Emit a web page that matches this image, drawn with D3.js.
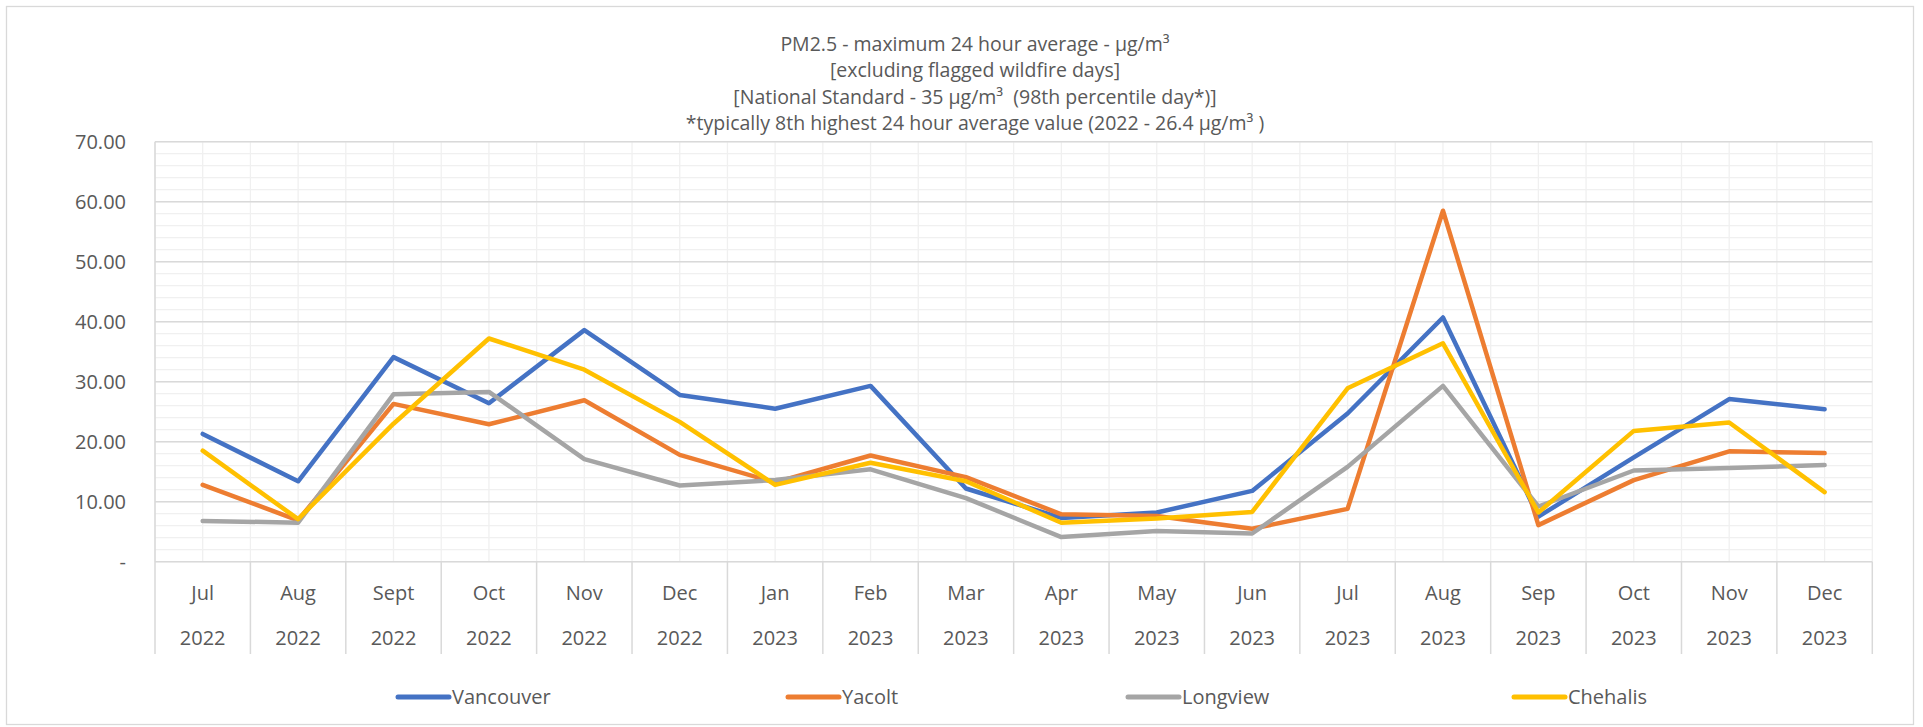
<!DOCTYPE html>
<html>
<head>
<meta charset="utf-8">
<script src="https://cdn.jsdelivr.net/npm/d3@7"></script>
<style>
    body { margin: 0; background: #ffffff; }
    svg text { fill: #595959; }
</style>
</head>
<body>
<div id="chart"></div>
<script>
// PM2.5 max 24 hour average, by month
var months = ["Jul", "Aug", "Sept", "Oct", "Nov", "Dec", "Jan", "Feb", "Mar", "Apr", "May", "Jun",
              "Jul", "Aug", "Sep", "Oct", "Nov", "Dec"];
var years = ["2022", "2022", "2022", "2022", "2022", "2022", "2023", "2023", "2023", "2023", "2023", "2023",
             "2023", "2023", "2023", "2023", "2023", "2023"];

var vancouver = [21.3, 13.4, 34.1, 26.4, 38.6, 27.8, 25.5, 29.3, 12.2, 7.3, 8.2, 11.8, 24.7, 40.7, 7.5, 17.4, 27.1, 25.4];
var yacolt    = [12.8, 6.9, 26.3, 22.9, 26.9, 17.8, 13.2, 17.7, 14.1, 7.9, 7.6, 5.5, 8.8, 58.5, 6.1, 13.6, 18.4, 18.1];
var longview  = [6.8, 6.5, 27.9, 28.3, 17.1, 12.7, 13.6, 15.4, 10.6, 4.1, 5.1, 4.7, 15.8, 29.3, 9.2, 15.2, 15.6, 16.1];
var chehalis  = [18.5, 7.1, 23.0, 37.2, 32.0, 23.3, 12.8, 16.5, 13.4, 6.5, 7.2, 8.3, 28.9, 36.4, 8.2, 21.8, 23.2, 11.6];

var seriesNames = ["Vancouver", "Yacolt", "Longview", "Chehalis"];
var seriesValues = [vancouver, yacolt, longview, chehalis];
var seriesColors = ["#4472C4", "#ED7D31", "#A5A5A5", "#FFC000"];

var yTicks = [0, 10, 20, 30, 40, 50, 60, 70];

var titleLines = [
    "PM2.5 - maximum 24 hour average - µg/m³",
    "[excluding flagged wildfire days]",
    "[National Standard - 35 µg/m³  (98th percentile day*)]",
    "*typically 8th highest 24 hour average value (2022 - 26.4 µg/m³ )"
];

var width = 1923;
var height = 727;
var plotLeft = 155, plotRight = 1872.3, plotTop = 141.7, plotBottom = 561.7, axisBottom = 654;
var font = "'Open Sans', 'Noto Sans', sans-serif";

var svg = d3.select("#chart")
    .append("svg")
    .attr("width", width)
    .attr("height", height);

// outer border
svg.append("rect")
    .attr("x", 6.5).attr("y", 6.5)
    .attr("width", 1907).attr("height", 718)
    .attr("fill", "#ffffff")
    .attr("stroke", "#d9d9d9")
    .attr("stroke-width", 1.3);

var x = d3.scaleBand()
    .domain(d3.range(months.length))
    .range([plotLeft, plotRight]);

var y = d3.scaleLinear()
    .domain([0, 70])
    .range([plotBottom, plotTop]);

var bw = x.bandwidth();

// vertical minor grid (band edges and centres)
var vLines = [];
months.forEach(function (m, i) {
    vLines.push(x(i));
    vLines.push(x(i) + bw / 2);
});
vLines.push(plotRight);

svg.append("g")
    .selectAll("line")
    .data(vLines)
    .enter()
    .append("line")
    .attr("x1", function (d) { return d; })
    .attr("x2", function (d) { return d; })
    .attr("y1", plotTop)
    .attr("y2", plotBottom)
    .attr("stroke", "#f0f0f0")
    .attr("stroke-width", 1.3);

// horizontal minor grid
svg.append("g")
    .selectAll("line")
    .data(d3.range(0, 71, 2))
    .enter()
    .append("line")
    .attr("x1", plotLeft)
    .attr("x2", plotRight)
    .attr("y1", function (d) { return y(d); })
    .attr("y2", function (d) { return y(d); })
    .attr("stroke", "#f0f0f0")
    .attr("stroke-width", 1.3);

// horizontal major grid
svg.append("g")
    .selectAll("line")
    .data(yTicks)
    .enter()
    .append("line")
    .attr("x1", plotLeft)
    .attr("x2", plotRight)
    .attr("y1", function (d) { return y(d); })
    .attr("y2", function (d) { return y(d); })
    .attr("stroke", "#d9d9d9")
    .attr("stroke-width", 1.5);

// left edge of plot
svg.append("line")
    .attr("x1", plotLeft).attr("x2", plotLeft)
    .attr("y1", plotTop).attr("y2", axisBottom)
    .attr("stroke", "#d9d9d9")
    .attr("stroke-width", 1.5);

// category dividers under the axis
svg.append("g")
    .selectAll("line")
    .data(d3.range(1, months.length + 1))
    .enter()
    .append("line")
    .attr("x1", function (d) { return d < months.length ? x(d) : plotRight; })
    .attr("x2", function (d) { return d < months.length ? x(d) : plotRight; })
    .attr("y1", plotBottom)
    .attr("y2", axisBottom)
    .attr("stroke", "#d9d9d9")
    .attr("stroke-width", 1.5);

// y axis labels
var fmt = d3.format(".2f");
svg.append("g")
    .selectAll("text")
    .data(yTicks)
    .enter()
    .append("text")
    .attr("x", 126)
    .attr("y", function (d) { return y(d); })
    .attr("dy", "0.35em")
    .style("text-anchor", "end")
    .style("font-family", font)
    .style("font-size", "20px")
    .text(function (d) { return d === 0 ? "-" : fmt(d); });

// x axis labels, two levels
var xl = svg.append("g");
xl.selectAll("text.month")
    .data(months)
    .enter()
    .append("text")
    .attr("class", "month")
    .attr("x", function (d, i) { return x(i) + bw / 2; })
    .attr("y", 593)
    .attr("dy", "0.35em")
    .style("text-anchor", "middle")
    .style("font-family", font)
    .style("font-size", "20px")
    .text(function (d) { return d; });

xl.selectAll("text.year")
    .data(years)
    .enter()
    .append("text")
    .attr("class", "year")
    .attr("x", function (d, i) { return x(i) + bw / 2; })
    .attr("y", 638)
    .attr("dy", "0.35em")
    .style("text-anchor", "middle")
    .style("font-family", font)
    .style("font-size", "20px")
    .text(function (d) { return d; });

// series lines
var line = d3.line()
    .x(function (d, i) { return x(i) + bw / 2; })
    .y(function (d) { return y(d); });

svg.append("g")
    .selectAll("path")
    .data(seriesValues)
    .enter()
    .append("path")
    .attr("d", line)
    .attr("fill", "none")
    .attr("stroke", function (d, i) { return seriesColors[i]; })
    .attr("stroke-width", 4.5)
    .attr("stroke-linejoin", "round")
    .attr("stroke-linecap", "round");

// title (keep the double space in line 3)
svg.append("g")
    .selectAll("text")
    .data(titleLines)
    .enter()
    .append("text")
    .attr("x", 975)
    .attr("y", function (d, i) { return 44 + i * 26.5; })
    .attr("dy", "0.35em")
    .style("text-anchor", "middle")
    .style("white-space", "pre")
    .style("font-family", font)
    .style("font-size", "19.5px")
    .text(function (d) { return d; });

// legend
var legendX = [396, 786, 1126, 1512];
var legend = svg.append("g")
    .selectAll("g")
    .data(seriesNames)
    .enter()
    .append("g")
    .attr("transform", function (d, i) { return "translate(" + legendX[i] + ",697)"; });

legend.append("line")
    .attr("x1", 2).attr("x2", 53)
    .attr("y1", 0).attr("y2", 0)
    .attr("stroke", function (d, i) { return seriesColors[i]; })
    .attr("stroke-width", 5)
    .attr("stroke-linecap", "round");

legend.append("text")
    .attr("x", 56)
    .attr("y", 0)
    .attr("dy", "0.35em")
    .style("font-family", font)
    .style("font-size", "20px")
    .text(function (d) { return d; });
</script>
</body>
</html>
